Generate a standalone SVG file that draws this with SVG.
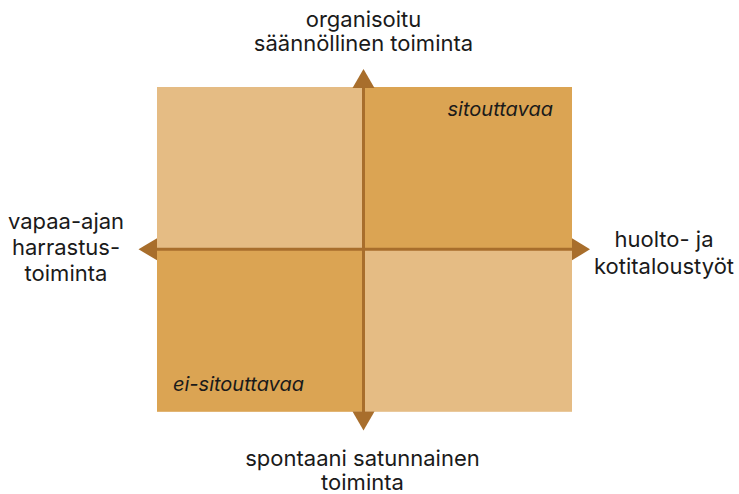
<svg xmlns="http://www.w3.org/2000/svg" width="739" height="494" viewBox="0 0 739 494">
<style>
.lbl{font-family:Inter,"Liberation Sans",sans-serif;font-size:22px;fill:#1a1a1a;text-anchor:middle}
.it{font-family:Inter,"Liberation Sans",sans-serif;font-size:20px;font-style:italic;fill:#1a1a1a}
.light{fill:#E5BC84}
.dark{fill:#DBA453}
.axis{stroke:#A86E2C;stroke-width:3;fill:none}
.head{fill:#A86E2C}
</style>
<rect width="739" height="494" fill="#ffffff"/>
<g id="q-top-left"><rect class="light" x="157" y="87" width="206.5" height="162.3"/></g>
<g id="q-top-right"><rect class="dark" x="363.5" y="87" width="208.5" height="162.3"/><text class="it" x="553" y="116" text-anchor="end">sitouttavaa</text></g>
<g id="q-bottom-left"><rect class="dark" x="157" y="249.3" width="206.5" height="162.5"/><text class="it" x="173" y="391">ei-sitouttavaa</text></g>
<g id="q-bottom-right"><rect class="light" x="363.5" y="249.3" width="208.5" height="162.5"/></g>
<g id="connectors">
<line class="axis" x1="363.5" y1="86" x2="363.5" y2="413"/>
<line class="axis" x1="156" y1="249.3" x2="573" y2="249.3"/>
<polygon class="head" points="363.5,69 352.5,88 374.5,88"/>
<polygon class="head" points="363.5,430.5 352.5,411.5 374.5,411.5"/>
<polygon class="head" points="590,249.3 572,238.3 572,260.3"/>
<polygon class="head" points="138.5,249.3 157,238.3 157,260.3"/>
</g>
<g id="label-top"><text class="lbl" x="363.5" y="27">organisoitu</text><text class="lbl" x="363.5" y="51">säännöllinen toiminta</text></g>
<g id="label-bottom"><text class="lbl" x="362.5" y="466">spontaani satunnainen</text><text class="lbl" x="362.5" y="490">toiminta</text></g>
<g id="label-left"><text class="lbl" x="66" y="229">vapaa-ajan</text><text class="lbl" x="66" y="255">harrastus-</text><text class="lbl" x="66" y="281">toiminta</text></g>
<g id="label-right"><text class="lbl" x="664" y="247">huolto- ja</text><text class="lbl" x="664" y="274">kotitaloustyöt</text></g>
</svg>
